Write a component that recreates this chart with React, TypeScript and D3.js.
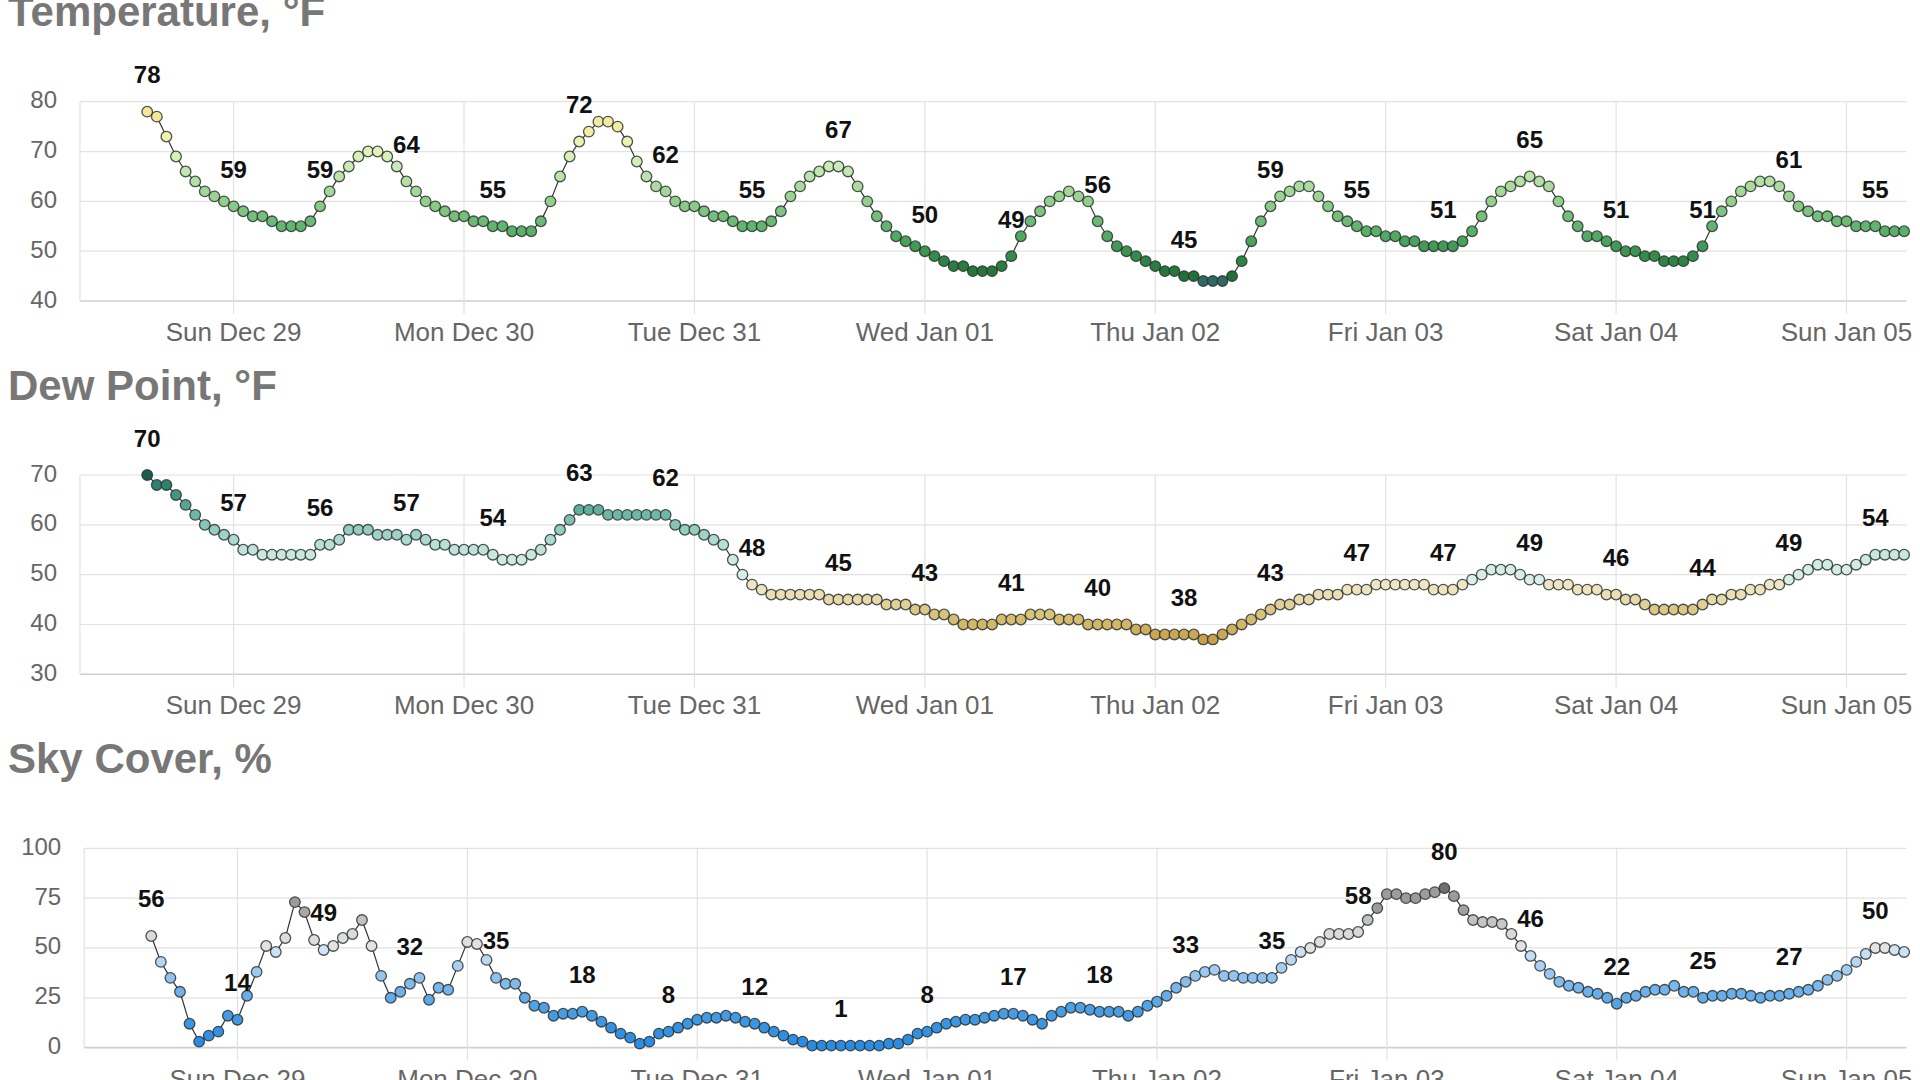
import React, { useEffect } from "react";
import * as d3 from "d3";

// Hourly series starting Sat Dec 28 2024 15:00
const START = new Date(2024, 11, 28, 15, 0);

const temperature: number[] = [
  78, 77, 73, 69, 66, 64, 62, 61, 60, 59,
  58, 57, 57, 56, 55, 55, 55, 56, 59, 62,
  65, 67, 69, 70, 70, 69, 67, 64, 62, 60,
  59, 58, 57, 57, 56, 56, 55, 55, 54, 54,
  54, 56, 60, 65, 69, 72, 74, 76, 76, 75,
  72, 68, 65, 63, 62, 60, 59, 59, 58, 57,
  57, 56, 55, 55, 55, 56, 58, 61, 63, 65,
  66, 67, 67, 66, 63, 60, 57, 55, 53, 52,
  51, 50, 49, 48, 47, 47, 46, 46, 46, 47,
  49, 53, 56, 58, 60, 61, 62, 61, 60, 56,
  53, 51, 50, 49, 48, 47, 46, 46, 45, 45,
  44, 44, 44, 45, 48, 52, 56, 59, 61, 62,
  63, 63, 61, 59, 57, 56, 55, 54, 54, 53,
  53, 52, 52, 51, 51, 51, 51, 52, 54, 57,
  60, 62, 63, 64, 65, 64, 63, 60, 57, 55,
  53, 53, 52, 51, 50, 50, 49, 49, 48, 48,
  48, 49, 51, 55, 58, 60, 62, 63, 64, 64,
  63, 61, 59, 58, 57, 57, 56, 56, 55, 55,
  55, 54, 54, 54,
];

const dewPoint: number[] = [
  70, 68, 68, 66, 64, 62, 60, 59, 58, 57,
  55, 55, 54, 54, 54, 54, 54, 54, 56, 56,
  57, 59, 59, 59, 58, 58, 58, 57, 58, 57,
  56, 56, 55, 55, 55, 55, 54, 53, 53, 53,
  54, 55, 57, 59, 61, 63, 63, 63, 62, 62,
  62, 62, 62, 62, 62, 60, 59, 59, 58, 57,
  56, 53, 50, 48, 47, 46, 46, 46, 46, 46,
  46, 45, 45, 45, 45, 45, 45, 44, 44, 44,
  43, 43, 42, 42, 41, 40, 40, 40, 40, 41,
  41, 41, 42, 42, 42, 41, 41, 41, 40, 40,
  40, 40, 40, 39, 39, 38, 38, 38, 38, 38,
  37, 37, 38, 39, 40, 41, 42, 43, 44, 44,
  45, 45, 46, 46, 46, 47, 47, 47, 48, 48,
  48, 48, 48, 48, 47, 47, 47, 48, 49, 50,
  51, 51, 51, 50, 49, 49, 48, 48, 48, 47,
  47, 47, 46, 46, 45, 45, 44, 43, 43, 43,
  43, 43, 44, 45, 45, 46, 46, 47, 47, 48,
  48, 49, 50, 51, 52, 52, 51, 51, 52, 53,
  54, 54, 54, 54,
];

const skyCover: number[] = [
  56, 43, 35, 28, 12, 3, 6, 8, 16, 14,
  26, 38, 51, 48, 55, 73, 68, 54, 49, 51,
  55, 57, 64, 51, 36, 25, 28, 32, 35, 24,
  30, 29, 41, 53, 52, 44, 35, 32, 32, 25,
  21, 20, 16, 17, 17, 18, 16, 13, 10, 7,
  5, 2, 3, 7, 8, 10, 12, 14, 15, 15,
  16, 15, 13, 12, 10, 8, 6, 4, 3, 1,
  1, 1, 1, 1, 1, 1, 1, 2, 2, 4,
  7, 8, 10, 12, 13, 14, 14, 15, 16, 17,
  17, 16, 14, 12, 16, 18, 20, 20, 19, 18,
  18, 18, 16, 18, 21, 23, 26, 30, 33, 36,
  38, 39, 36, 36, 35, 35, 35, 35, 40, 44,
  48, 50, 53, 57, 57, 57, 58, 64, 70, 77,
  77, 75, 75, 77, 78, 80, 76, 69, 64, 63,
  63, 62, 57, 51, 46, 41, 37, 33, 31, 30,
  28, 27, 25, 22, 25, 26, 28, 29, 29, 31,
  28, 28, 25, 26, 26, 27, 27, 26, 25, 26,
  26, 27, 28, 29, 31, 34, 36, 39, 43, 47,
  50, 50, 49, 48,
];

const tempTicks = [40, 50, 60, 70, 80];
const dewTicks = [30, 40, 50, 60, 70];
const skyTicks = [0, 25, 50, 75, 100];

const tempColorStops = [44, 45, 48, 52, 56, 60, 64, 68, 71, 74, 78];
const tempColors = ["#2f6a66", "#21703a", "#2d8444", "#48a35c", "#6cba75", "#92cf8d", "#b4dfa6", "#d3eebb", "#e9f4b6", "#f3eea8", "#f7e59b"];
const dewColorStops = [37, 40, 43, 45, 47, 48.4, 48.6, 53, 56, 59, 63, 66, 68, 70];
const dewColors = ["#c6a04a", "#d3b765", "#ddc785", "#e8d9ab", "#eee3bf", "#f0e7c8", "#dcefeb", "#cfeae3", "#b7e0d6", "#95cdc0", "#62ae9d", "#429683", "#2e8070", "#17604f"];
const skyColorStops = [0, 10, 20, 30, 40, 49.4, 49.6, 57, 64, 70, 78, 80];
const skyColors = ["#2a8ae0", "#3592e2", "#4ea0e6", "#78b5ec", "#a9cdf2", "#d3e4f7", "#e4e4e4", "#dadada", "#c2c2c2", "#9a9a9a", "#9c9c9c", "#6f6f6f"];

const FONT = "'Liberation Sans', Arial, Helvetica, sans-serif";
const RIGHT = 1906.5;
const PLOT_H = 199.3;

type PanelProps = {
  title: string;
  values: number[];
  ticks: number[];
  top: number;
  left: number;
  color: (v: number) => string;
};

function Panel({ title, values, ticks, top, left, color }: PanelProps) {
  const bottom = top + PLOT_H;
  const domainStart = d3.timeHour.offset(START, -7);
  const domainEnd = new Date(+START + 183.25 * 3600e3);
  const x = d3.scaleTime().domain([domainStart, domainEnd]).range([left, RIGHT]);
  const y = d3
    .scaleLinear()
    .domain([ticks[0], ticks[ticks.length - 1]])
    .range([bottom, top]);
  const days = d3.timeDay.range(d3.timeDay.ceil(domainStart), domainEnd);
  const fmt = d3.timeFormat("%a %b %d");
  const pts = values.map((v, i) => ({ t: d3.timeHour.offset(START, i), v, i }));
  const line = d3
    .line<{ t: Date; v: number }>()
    .x((d) => x(d.t))
    .y((d) => y(d.v));

  return (
    <g>
      <text x={8} y={top - 75.5} fontFamily={FONT} fontWeight="bold" fontSize={42} fill="#777">
        {title}
      </text>
      {ticks.map((t) => (
        <g key={"h" + t}>
          <line
            x1={left}
            x2={RIGHT}
            y1={y(t)}
            y2={y(t)}
            stroke={t === ticks[0] ? "#cfcfcf" : "#e2e2e2"}
            strokeWidth={t === ticks[0] ? 1.6 : 1.2}
          />
          <text
            x={left - 23}
            y={y(t) - 2}
            textAnchor="end"
            dominantBaseline="central"
            fontFamily={FONT}
            fontSize={24}
            fill="#666"
          >
            {t}
          </text>
        </g>
      ))}
      <line x1={left} x2={left} y1={top} y2={bottom} stroke="#e2e2e2" strokeWidth={1.2} />
      {days.map((d) => (
        <g key={+d}>
          <line x1={x(d)} x2={x(d)} y1={top} y2={bottom + 13} stroke="#e2e2e2" strokeWidth={1.2} />
          <text
            x={x(d)}
            y={bottom + 40}
            textAnchor="middle"
            fontFamily={FONT}
            fontSize={26}
            fill="#666"
          >
            {fmt(d)}
          </text>
        </g>
      ))}
      <path d={line(pts) || ""} fill="none" stroke="#333" strokeWidth={1.2} />
      {pts.map((p) => (
        <circle
          key={p.i}
          cx={x(p.t)}
          cy={y(p.v)}
          r={5.3}
          fill={color(p.v)}
          stroke="#2b3530"
          strokeOpacity={0.85}
          strokeWidth={1.3}
        />
      ))}
      {pts
        .filter((p) => p.i % 9 === 0)
        .map((p) => (
          <text
            key={"l" + p.i}
            x={x(p.t)}
            y={y(p.v) - 28.5}
            textAnchor="middle"
            fontFamily={FONT}
            fontWeight="bold"
            fontSize={24}
            fill="#111"
          >
            {p.v}
          </text>
        ))}
    </g>
  );
}

export default function App() {
  useEffect(() => {
    document.body.style.margin = "0";
    document.body.style.overflow = "hidden";
  }, []);
  const tempColor = d3.scaleLinear<string>().domain(tempColorStops).range(tempColors).clamp(true);
  const dewColor = d3.scaleLinear<string>().domain(dewColorStops).range(dewColors).clamp(true);
  const skyColor = d3.scaleLinear<string>().domain(skyColorStops).range(skyColors).clamp(true);
  return (
    <svg
      width={1920}
      height={1080}
      style={{ position: "absolute", left: 0, top: 0, background: "#fff" }}
    >
      <rect width={1920} height={1080} fill="#fff" />
      <Panel title="Temperature, °F" values={temperature} ticks={tempTicks} top={101.7} left={80} color={(v) => tempColor(v)} />
      <Panel title="Dew Point, °F" values={dewPoint} ticks={dewTicks} top={475} left={80} color={(v) => dewColor(v)} />
      <Panel title="Sky Cover, %" values={skyCover} ticks={skyTicks} top={848.3} left={84.2} color={(v) => skyColor(v)} />
    </svg>
  );
}
